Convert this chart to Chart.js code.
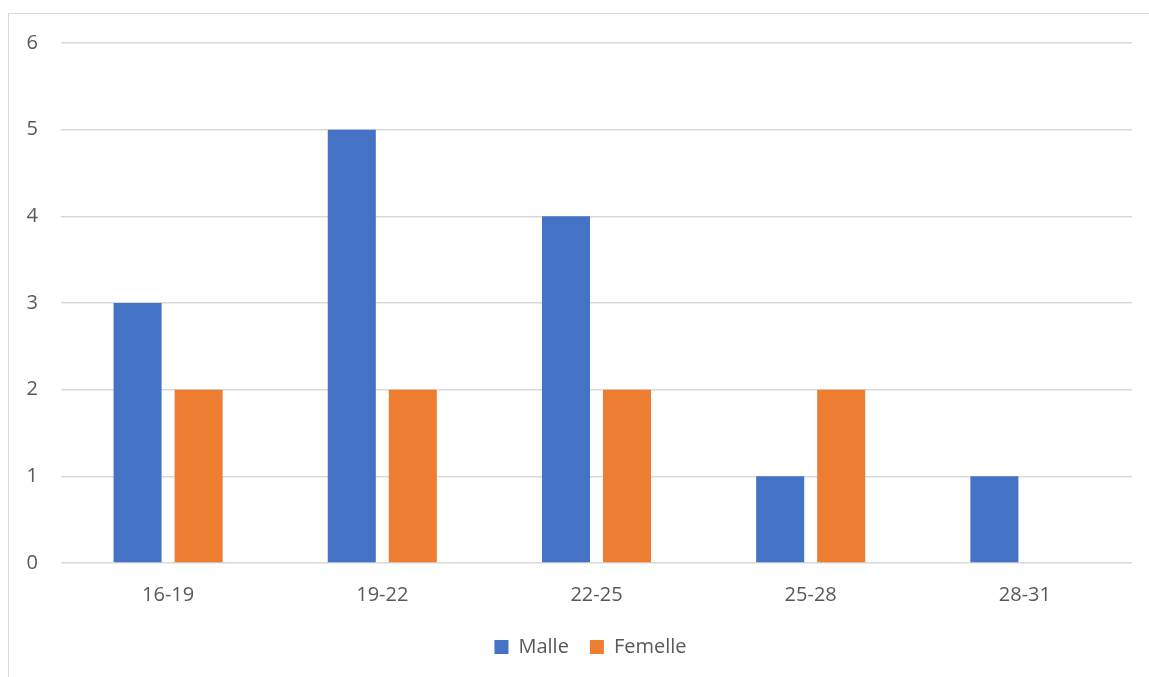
<!DOCTYPE html>
<html>
<head>
<meta charset="utf-8">
<script src="https://cdn.jsdelivr.net/npm/chart.js@4/dist/chart.umd.min.js"></script>
<style>
  html, body { margin: 0; padding: 0; background: #ffffff; overflow: hidden; }
  #frame {
    position: absolute; left: 8px; top: 13px; width: 1300px; height: 800px;
    border: 1px solid #d9d9d9; box-sizing: border-box;
  }
  #wrap { position: absolute; left: 0; top: 0; width: 1149px; height: 677px; }
</style>
</head>
<body>
<div id="frame"></div>
<div id="wrap"><canvas id="chart" width="1149" height="677"></canvas></div>
<script>
// Age groups and head counts per sex
const categories = ['16-19', '19-22', '22-25', '25-28', '28-31'];
const malle = [3, 5, 4, 1, 1];
const femelle = [2, 2, 2, 2, 0];
const yTicks = [0, 1, 2, 3, 4, 5, 6];

const textColor = '#595959';
const gridColor = '#d9d9d9';
const font = { family: 'Open Sans', size: 20 };

// Nudge the legend a little to the left of the plot centre
const legendShift = {
  id: 'legendShift',
  afterLayout(chart) {
    if (chart.legend) {
      chart.legend.left -= 6;
      chart.legend.right -= 6;
    }
  }
};

new Chart(document.getElementById('chart'), {
  type: 'bar',
  data: {
    labels: categories,
    datasets: [
      { label: 'Malle', data: malle, backgroundColor: '#4472c4',
        barPercentage: 0.787, categoryPercentage: 0.57 },
      { label: 'Femelle', data: femelle, backgroundColor: '#ed7d31',
        barPercentage: 0.787, categoryPercentage: 0.57 }
    ]
  },
  plugins: [legendShift],
  options: {
    responsive: false,
    animation: false,
    layout: { padding: { left: 0, right: 17, top: 43, bottom: 10 } },
    plugins: {
      tooltip: { enabled: false },
      legend: {
        position: 'bottom',
        fullSize: false,
        labels: {
          color: textColor, font: font,
          boxWidth: 14, boxHeight: 14, padding: 21
        }
      }
    },
    scales: {
      x: {
        grid: { display: false },
        border: { display: false },
        ticks: { color: textColor, font: font, padding: 12 },
        afterFit: s => { s.height = 53; }
      },
      y: {
        min: 0, max: 6,
        afterBuildTicks: s => { s.ticks = yTicks.map(v => ({ value: v })); },
        grid: { color: gridColor, lineWidth: 1.5, drawTicks: false },
        border: { display: false },
        ticks: { color: textColor, font: font, padding: 23 },
        afterFit: s => { s.width = 61; }
      }
    }
  }
});
</script>
</body>
</html>
